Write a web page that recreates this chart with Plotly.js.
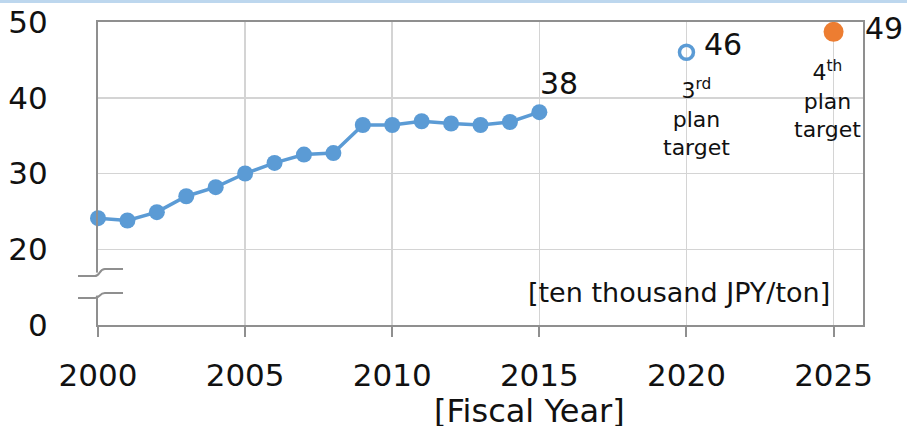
<!DOCTYPE html>
<html>
<head>
<meta charset="utf-8">
<script src="https://cdn.plot.ly/plotly-3.0.1.min.js"></script>
<style>
html,body{margin:0;padding:0;background:#fff;}
#topbar{position:absolute;left:0;top:0;width:907px;height:3px;background:#bdd7ee;z-index:5;}
#chart{width:907px;height:426px;}
</style>
</head>
<body>
<div id="topbar"></div>
<div id="chart"></div>
<script>
// Fiscal years and price values [ten thousand JPY/ton]
var years = [2000,2001,2002,2003,2004,2005,2006,2007,2008,2009,2010,2011,2012,2013,2014,2015];
var values = [24.1,23.8,24.9,27.0,28.2,30.0,31.4,32.5,32.7,36.4,36.4,36.9,36.6,36.4,36.8,38.1];
var target3Year = [2020];
var target3Value = [46.0];
var target4Year = [2025];
var target4Value = [48.7];
// value labels
var labelYears = [2015, 2020, 2025];
var labelValues = [38.1, 46.0, 48.7];
var labelTexts = ["38", "46", "49"];
// axis ticks (axis break: "0" drawn where 10 would be)
var yTickVals = [10, 20, 30, 40, 50];
var yTickText = ["0", "20", "30", "40", "50"];
var xTickVals = [2000, 2005, 2010, 2015, 2020, 2025];
var xTickText = ["2000", "2005", "2010", "2015", "2020", "2025"];

var blue = "#5b9bd5", orange = "#ed7d31", axisGray = "#8f8f8f", gridGray = "#d4d4d4", txt = "#111111";
var font = "DejaVu Sans, Verdana, sans-serif";

var traces = [
  {x: years, y: values, mode: "lines+markers", type: "scatter",
   line: {color: blue, width: 3.5}, marker: {color: blue, size: 16}, cliponaxis: false, hoverinfo: "skip"},
  {x: target3Year, y: target3Value, mode: "markers", type: "scatter",
   marker: {color: blue, size: 14, symbol: "circle-open", line: {width: 3.5, color: blue}}, cliponaxis: false},
  {x: target4Year, y: target4Value, mode: "markers", type: "scatter",
   marker: {color: orange, size: 20}, cliponaxis: false}
];

var shifts = [[20, 29], [37, 8], [50, 3]];
var annotations = labelYears.map(function(yr, i){
  return {x: yr, y: labelValues[i], xref: "x", yref: "y", text: labelTexts[i], showarrow: false,
    xshift: shifts[i][0], yshift: shifts[i][1], font: {family: font, size: 30, color: txt}};
});
annotations.push({x: 2020.35, y: 37.4, xref: "x", yref: "y", showarrow: false, align: "center",
  text: "3<sup>rd</sup><br>plan<br>target", font: {family: font, size: 22, color: txt}});
annotations.push({x: 2024.8, y: 39.8, xref: "x", yref: "y", showarrow: false, align: "center",
  text: "4<sup>th</sup><br>plan<br>target", font: {family: font, size: 22, color: txt}});
annotations.push({x: 2019.73, y: 14.35, xref: "x", yref: "y", showarrow: false,
  text: "[ten thousand JPY/ton]", font: {family: font, size: 27, color: txt}});
annotations.push({x: 0.564, y: -0.285, xref: "paper", yref: "paper", showarrow: false, yanchor: "middle",
  text: "[Fiscal Year]", font: {family: font, size: 32, color: txt}});

var shapes = [
  // gap in the left axis (axis break)
  {type: "rect", xref: "paper", yref: "paper", x0: -0.008, x1: 0.008, y0: 0.097, y1: 0.173,
   fillcolor: "#ffffff", line: {width: 0}, layer: "above"},
  {type: "path", xref: "paper", yref: "paper", layer: "above",
   path: "M -0.0261,0.1614 L -0.004,0.1614 C 0.002,0.1614 0.002,0.1845 0.009,0.1845 L 0.0327,0.1845",
   line: {color: axisGray, width: 2}},
  {type: "path", xref: "paper", yref: "paper", layer: "above",
   path: "M -0.0261,0.089 L -0.004,0.089 C 0.002,0.089 0.002,0.1054 0.009,0.1054 L 0.0327,0.1054",
   line: {color: axisGray, width: 2}}
];

var layout = {
  width: 907, height: 426,
  margin: {l: 98, r: 43.5, t: 21.5, b: 101, pad: 0},
  paper_bgcolor: "#ffffff", plot_bgcolor: "#ffffff",
  showlegend: false,
  xaxis: {range: [2000, 2026], tickvals: xTickVals, ticktext: xTickText,
    showgrid: true, gridcolor: gridGray, gridwidth: 1.5, zeroline: false,
    showline: true, linecolor: axisGray, linewidth: 2, mirror: true,
    ticks: "outside", ticklen: 10, tickcolor: axisGray, tickwidth: 2,
    ticklabelstandoff: 12,
    tickfont: {family: font, size: 31, color: txt}},
  yaxis: {range: [10, 50], tickvals: yTickVals, ticktext: yTickText,
    showgrid: true, gridcolor: gridGray, gridwidth: 1.5, zeroline: false,
    showline: true, linecolor: axisGray, linewidth: 2, mirror: true,
    ticks: "", ticklabelstandoff: 42,
    tickfont: {family: font, size: 31, color: txt}},
  annotations: annotations,
  shapes: shapes
};

Plotly.newPlot("chart", traces, layout, {staticPlot: true, displayModeBar: false});
</script>
</body>
</html>
